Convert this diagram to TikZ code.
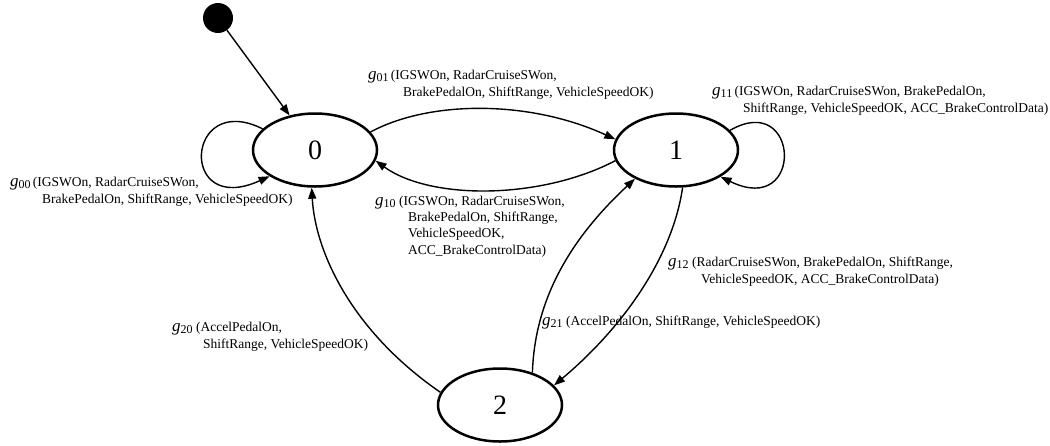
\documentclass[tikz,border=0pt]{standalone}
\usepackage{fontspec}
\setmainfont{Liberation Serif}
\usetikzlibrary{arrows.meta,shapes.geometric}
\newcommand\gsub[1]{\textit{\fontsize{17}{17}\selectfont g}\raisebox{-2pt}{\fontsize{12}{12}\selectfont #1}}
\begin{document}
\begin{tikzpicture}[x=1pt,y=-1pt,
  state/.style={ellipse,draw,line width=2.5pt,minimum width=124pt,minimum height=73pt,inner sep=0pt,font=\fontsize{28}{30}\selectfont},
  edge/.style={line width=1.4pt,-{Triangle[length=11pt,width=8pt]}},
  lbl/.style={anchor=base west,inner sep=0pt,align=left,font=\fontsize{13.5}{16.3}\selectfont}]
\useasboundingbox (0,0) rectangle (1050,445);
\node[circle,fill=black,minimum size=30pt,inner sep=0pt] (init) at (218,18) {};
\node[state] (n0) at (315,150) {0};
\node[state] (n1) at (676,150) {1};
\node[state] (n2) at (500,405) {2};

\draw[edge] (init) -- (n0);
\draw[edge] (n0.18) .. controls (430,100) and (530,100) .. (n1.170);
\draw[edge] (n1.190) .. controls (540,200) and (430,200) .. (n0.-10);
\draw[edge] (n0.158) .. controls (185,90) and (178,218) .. (n0.210);
\draw[edge] (n1.20) .. controls (800,90) and (805,218) .. (n1.329);
\draw[edge] (n2.168) .. controls (350,330) and (315,250) .. (n0.265);
\draw[edge] (n2.45) .. controls (535,290) and (580,230) .. (n1.215);
\draw[edge] (n1.280) .. controls (672,260) and (620,330) .. (n2.20);

\node[lbl] (l01) at (368,96) {\gsub{01}\,(IGSWOn, RadarCruiseSWon,\\\hspace*{35pt}BrakePedalOn, ShiftRange, VehicleSpeedOK)};
\node[lbl] (l10) at (375,254) {\gsub{10} (IGSWOn, RadarCruiseSWon,\\\hspace*{33pt}BrakePedalOn, ShiftRange,\\\hspace*{33pt}VehicleSpeedOK,\\\hspace*{33pt}ACC\_BrakeControlData)};
\node[lbl] (l11) at (712,112) {\gsub{11}\,(IGSWOn, RadarCruiseSWon, BrakePedalOn,\\\hspace*{31pt}ShiftRange, VehicleSpeedOK, ACC\_BrakeControlData)};
\node[lbl] (l00) at (10,203) {\gsub{00}\,(IGSWOn, RadarCruiseSWon,\\\hspace*{32pt}BrakePedalOn, ShiftRange, VehicleSpeedOK)};
\node[lbl] (l12) at (668,283) {\gsub{12} (RadarCruiseSWon, BrakePedalOn, ShiftRange,\\\hspace*{33pt}VehicleSpeedOK, ACC\_BrakeControlData)};
\node[lbl] (l20) at (172,348) {\gsub{20} (AccelPedalOn,\\\hspace*{31pt}ShiftRange, VehicleSpeedOK)};
\node[lbl] (l21) at (542,325) {\gsub{21} (AccelPedalOn, ShiftRange, VehicleSpeedOK)};
\end{tikzpicture}
\end{document}
